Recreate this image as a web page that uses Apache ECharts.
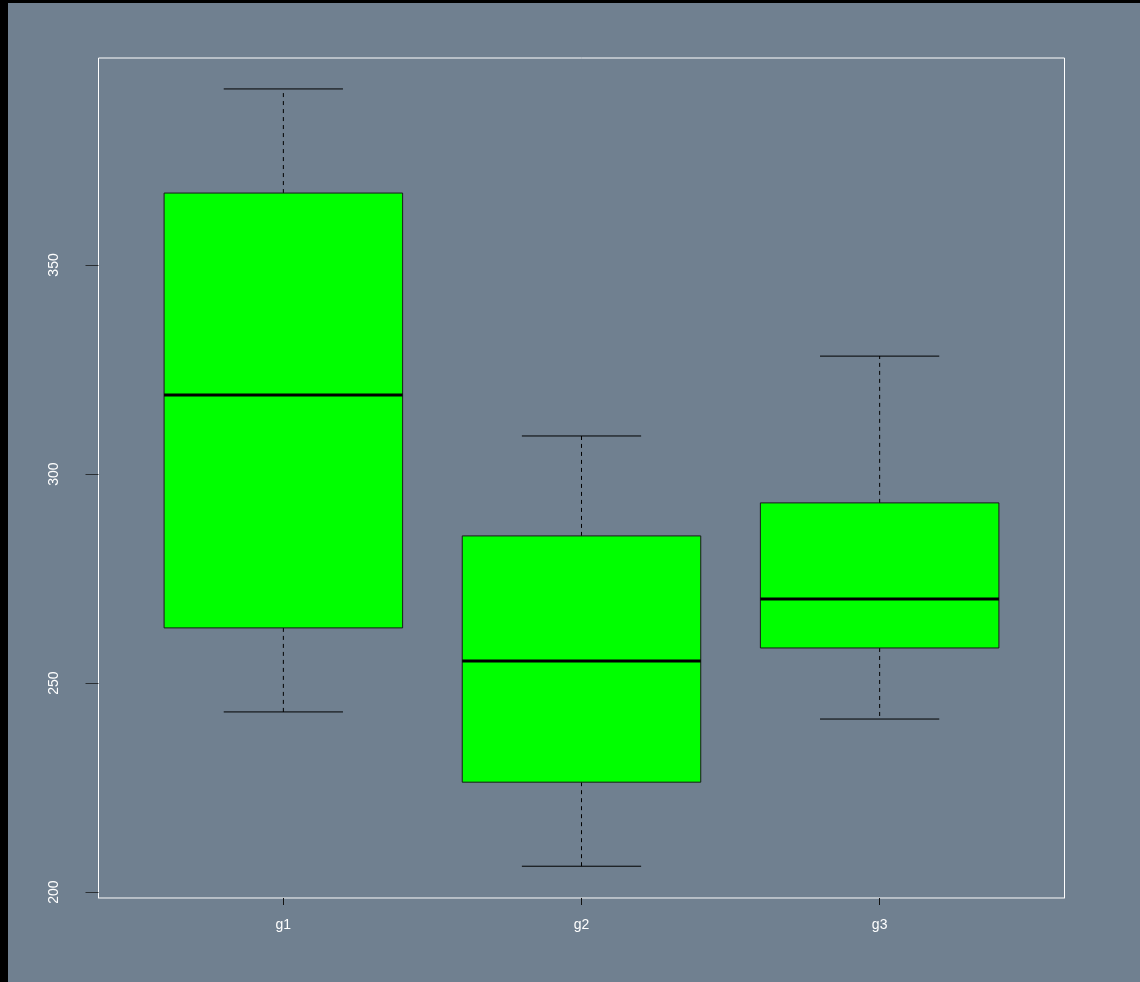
<!DOCTYPE html>
<html>
<head>
<meta charset="utf-8">
<script src="https://cdn.jsdelivr.net/npm/echarts@6/dist/echarts.min.js"></script>
<style>
html,body{margin:0;padding:0;background:#000;width:1140px;height:982px;overflow:hidden;}
#chart{position:absolute;left:8px;top:3px;width:1132px;height:979px;background:#708090;}
</style>
</head>
<body>
<div id="chart"></div>
<script>
var categories = ['g1', 'g2', 'g3'];
var whiskerLow = [243.1, 206.2, 241.4];
var q1 = [263.2, 226.3, 258.4];
var median = [318.9, 255.3, 270.1];
var q3 = [367.2, 285.2, 293.1];
var whiskerHigh = [392.1, 309.1, 328.2];
var yTicks = [200, 250, 300, 350];
var xTicks = [1, 2, 3];

var data = categories.map(function (c, i) {
  return [i + 1, whiskerLow[i], q1[i], median[i], q3[i], whiskerHigh[i]];
});

var chart = echarts.init(document.getElementById('chart'), null, {renderer: 'canvas'});

function renderItem(params, api) {
  var x = api.value(0);
  var boxHalf = 0.4, capHalf = 0.2;
  var pLow = api.coord([x, api.value(1)]);
  var pQ1 = api.coord([x, api.value(2)]);
  var pMed = api.coord([x, api.value(3)]);
  var pQ3 = api.coord([x, api.value(4)]);
  var pHigh = api.coord([x, api.value(5)]);
  var left = api.coord([x - boxHalf, 0])[0];
  var right = api.coord([x + boxHalf, 0])[0];
  var capL = api.coord([x - capHalf, 0])[0];
  var capR = api.coord([x + capHalf, 0])[0];
  var cx = pMed[0];
  var dash = {stroke: '#000', lineWidth: 1, lineDash: [4, 4]};
  var solid = {stroke: '#000', lineWidth: 1};
  return {
    type: 'group',
    children: [
      {type: 'line', shape: {x1: cx, y1: pQ3[1], x2: cx, y2: pHigh[1]}, style: dash},
      {type: 'line', shape: {x1: cx, y1: pQ1[1], x2: cx, y2: pLow[1]}, style: dash},
      {type: 'line', shape: {x1: capL, y1: pHigh[1], x2: capR, y2: pHigh[1]}, style: solid},
      {type: 'line', shape: {x1: capL, y1: pLow[1], x2: capR, y2: pLow[1]}, style: solid},
      {type: 'rect', shape: {x: left, y: pQ3[1], width: right - left, height: pQ1[1] - pQ3[1]},
        style: {fill: '#00ff00', stroke: '#1a1a1a', lineWidth: 1}},
      {type: 'line', shape: {x1: left, y1: pMed[1], x2: right, y2: pMed[1]},
        style: {stroke: '#000', lineWidth: 3}}
    ]
  };
}

var option = {
  backgroundColor: '#708090',
  animation: false,
  grid: {
    left: 90.5, top: 55, width: 966, height: 840,
    show: true, borderColor: '#ffffff', borderWidth: 1, backgroundColor: 'transparent'
  },
  xAxis: {
    type: 'value', min: 0.38, max: 3.62,
    splitLine: {show: false},
    axisLine: {show: true, lineStyle: {color: '#b4bcc4', width: 1}},
    axisTick: {show: true, customValues: xTicks, length: 7, lineStyle: {color: '#111', width: 1}},
    axisLabel: {
      customValues: xTicks, color: '#ffffff', fontSize: 14, fontFamily: 'Liberation Sans',
      margin: 20,
      formatter: function (v) { return categories[Math.round(v) - 1] || ''; }
    }
  },
  yAxis: {
    type: 'value', min: 198.6, max: 399.5,
    splitLine: {show: false},
    axisLine: {show: false},
    axisTick: {show: true, customValues: yTicks, length: 13, lineStyle: {color: '#2a2f33', width: 1}},
    axisLabel: {
      customValues: yTicks, color: '#ffffff', fontSize: 14, fontFamily: 'Liberation Sans',
      rotate: 90, margin: 44, verticalAlign: 'middle', align: 'center'
    }
  },
  series: [{
    type: 'custom',
    renderItem: renderItem,
    encode: {x: 0, y: [1, 2, 3, 4, 5]},
    data: data
  }]
};
chart.setOption(option);
</script>
</body>
</html>
